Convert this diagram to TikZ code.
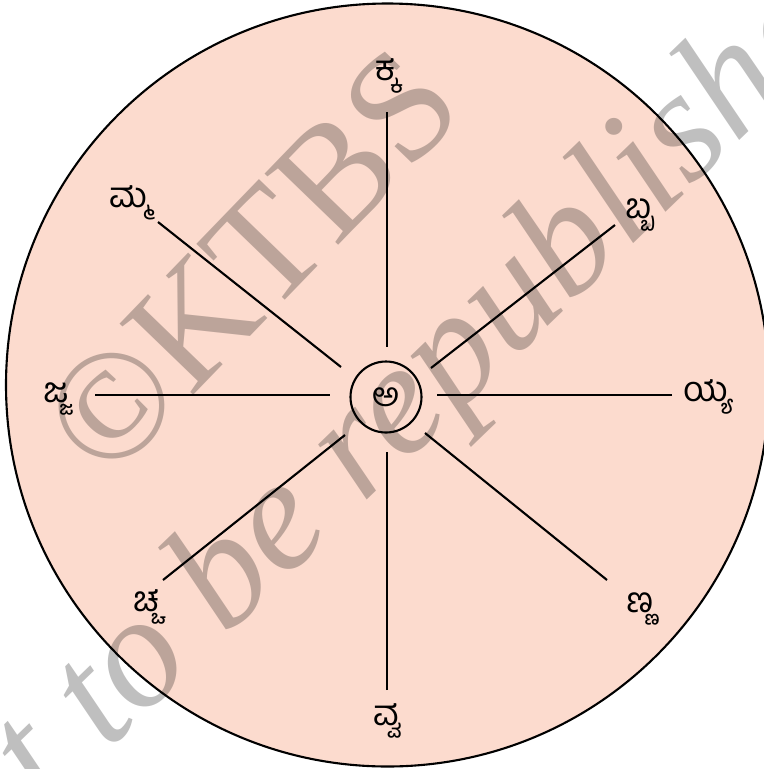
\documentclass[tikz,border=0pt]{standalone}
\usepackage{fontspec}
\setmainfont{Liberation Serif}
\newfontfamily\kan[Script=Kannada]{Hind Mysuru}
\definecolor{peach}{RGB}{252,219,206}
\tikzset{
  spoke/.style={line width=1.2pt, black},
  lbl/.style={font=\kan\fontsize{20}{22}\selectfont, inner sep=0pt},
  wm/.style={text=black, text opacity=0.25, inner sep=0pt},
}
\begin{document}
\begin{tikzpicture}[x=0.02cm,y=-0.02cm]
\useasboundingbox (0,0) rectangle (764,769);
\clip (0,0) rectangle (764,769);
\fill[peach] (387.5,385) circle[radius=381.5];
% watermark
\node[wm, rotate=46, font=\fontsize{89}{89}\selectfont] (wm1) at (251,262) {©KTBS};
\node[wm, rotate=44, font=\itshape\fontsize{91}{91}\selectfont] (wm2) at (390,425) {not to be republished};
\draw[line width=1.2pt] (387.5,385) circle[radius=381.5];
% center
\node[draw, circle, line width=1.2pt, minimum size=71*0.02cm, inner sep=0pt, font=\kan\fontsize{19}{20}\selectfont] (c) at (386,397) {ಅ};
% spoke ends
\coordinate (tA) at (387,112);  \coordinate (tB) at (387,347);
\coordinate (bA) at (387,690);  \coordinate (bB) at (387,452);
\coordinate (lA) at (95,395);   \coordinate (lB) at (330,395);
\coordinate (rA) at (672,395);  \coordinate (rB) at (437,395);
\coordinate (ulA) at (158,222); \coordinate (ulB) at (341,367);
\coordinate (urA) at (615,225); \coordinate (urB) at (431,368);
\coordinate (llA) at (163,580); \coordinate (llB) at (345,435);
\coordinate (lrA) at (607,580); \coordinate (lrB) at (425,433);
\foreach \s in {t,b,l,r,ul,ur,ll,lr} \draw[spoke] (\s A) -- (\s B);
% labels
\node[lbl] (Lt)  at (387,76)  {ಕ್ಕ};
\node[lbl] (Lul) at (130,203) {ಮ್ಮ};
\node[lbl] (Lur) at (640,215) {ಬ್ಬ};
\node[lbl] (Ll)  at (56,399)  {ಜ್ಜ};
\node[lbl] (Lr)  at (708,397) {ಯ್ಯ};
\node[lbl] (Lll) at (147,607) {ಚ್ಚ};
\node[lbl] (Llr) at (640,609) {ಣ್ಣ};
\node[lbl] (Lb)  at (387,721) {ವ್ವ};
\end{tikzpicture}
\end{document}
